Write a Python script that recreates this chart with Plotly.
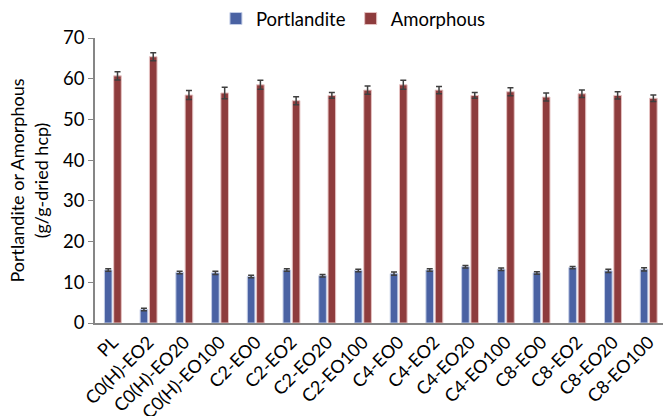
import plotly.graph_objects as go

categories = ["PL", "C0(H)-EO2", "C0(H)-EO20", "C0(H)-EO100",
              "C2-EO0", "C2-EO2", "C2-EO20", "C2-EO100",
              "C4-EO0", "C4-EO2", "C4-EO20", "C4-EO100",
              "C8-EO0", "C8-EO2", "C8-EO20", "C8-EO100"]

portlandite = [13.0, 3.3, 12.4, 12.3, 11.4, 13.0, 11.6, 12.9,
               12.1, 13.0, 13.8, 13.2, 12.3, 13.6, 12.8, 13.2]
portlandite_err = [0.3, 0.3, 0.3, 0.4, 0.3, 0.3, 0.3, 0.3,
                   0.4, 0.3, 0.3, 0.3, 0.3, 0.3, 0.4, 0.4]

amorphous = [60.7, 65.4, 56.0, 56.5, 58.5, 54.6, 55.9, 57.2,
             58.5, 57.2, 55.9, 56.8, 55.5, 56.3, 55.9, 55.2]
amorphous_err = [1.0, 1.0, 1.1, 1.4, 1.1, 1.0, 0.7, 1.0,
                 1.1, 0.9, 0.7, 1.0, 1.0, 0.9, 0.9, 0.8]

y_ticks = [0, 10, 20, 30, 40, 50, 60, 70]

FONT = "Lato, Carlito, Calibri, sans-serif"
err_style = dict(type="data", visible=True, color="#3f3f3f", thickness=1.5, width=3)

fig = go.Figure()
fig.add_trace(go.Bar(
    name="Portlandite", x=categories, y=portlandite,
    error_y=dict(array=portlandite_err, **err_style),
    marker=dict(color="#4a62a3", line=dict(color="#c3cde6", width=1)),
))
fig.add_trace(go.Bar(
    name="Amorphous", x=categories, y=amorphous,
    error_y=dict(array=amorphous_err, **err_style),
    marker=dict(color="#8e3c3d", line=dict(color="#e6c3c3", width=1)),
))

fig.update_layout(
    width=663, height=416,
    margin=dict(l=95, r=0, t=36, b=93),
    paper_bgcolor="white", plot_bgcolor="white",
    barmode="group", bargap=0.48, bargroupgap=0.18,
    font=dict(family=FONT, size=18, color="#000000"),
    legend=dict(orientation="h", x=0.455, xanchor="center",
                yref="container", y=1.0, yanchor="top",
                font=dict(size=18.5), itemwidth=30, traceorder="normal",
                bgcolor="rgba(0,0,0,0)"),
    xaxis=dict(
        range=[-0.5, 15.4], tickangle=-45, showgrid=False, automargin=False,
        showline=True, linecolor="#868686", linewidth=1.5,
        ticks="", tickfont=dict(size=18),
    ),
    yaxis=dict(
        range=[0, 70], tickvals=y_ticks, showgrid=False, zeroline=False,
        automargin=False,
        showline=True, linecolor="#868686", linewidth=1.5,
        ticks="outside", ticklen=5, tickcolor="#868686",
        tickfont=dict(size=18.5),
        title=dict(text="Portlandite or Amorphous<br>(g/g-dried hcp)",
                   font=dict(size=18), standoff=10),
    ),
)

fig.write_html("out.html")
